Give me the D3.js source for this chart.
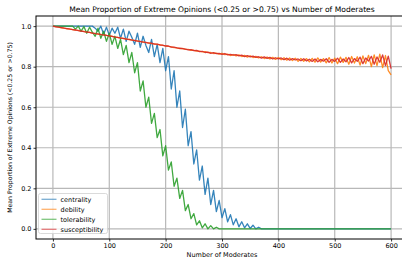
<!DOCTYPE html>
<html>
<head>
<meta charset="utf-8">
<script src="https://cdn.jsdelivr.net/npm/d3@7"></script>
<style>
  body { margin: 0; background: #fff; }
  text { font-family: "DejaVu Sans", sans-serif; fill: #000; }
</style>
</head>
<body>
<svg class="svg" width="402" height="259"></svg>
<script>
// number of moderates, sampled every 5
let moderates = d3.range(0, 601, 5);

let centrality = [
    1, 1, 1, 1, 1, 1, 1, 1, 1, 1, 1, 1, 1, 1,
    1.0, 0.99, 0.975, 1.0, 0.96, 0.995, 0.955, 0.99, 0.965, 0.995,
    0.94, 0.985, 0.925, 0.975, 0.945, 0.91, 0.965, 0.895, 0.95, 0.905,
    0.87, 0.935, 0.85, 0.91, 0.82, 0.89, 0.78, 0.85, 0.69, 0.78,
    0.6, 0.68, 0.5, 0.59, 0.41, 0.48, 0.32, 0.39, 0.24, 0.31,
    0.17, 0.25, 0.12, 0.19, 0.085, 0.14, 0.055, 0.1, 0.035, 0.07,
    0.02, 0.05, 0.01, 0.035, 0.005, 0.025, 0.002, 0.018, 0, 0.008,
    0, 0, 0, 0, 0, 0, 0, 0, 0, 0,
    0, 0, 0, 0, 0, 0, 0, 0, 0, 0,
    0, 0, 0, 0, 0, 0, 0, 0, 0, 0,
    0, 0, 0, 0, 0, 0, 0, 0, 0, 0,
    0, 0, 0, 0, 0, 0, 0
];

let debility = [
    1.000, 0.998, 0.995, 0.992, 0.990, 0.987, 0.986, 0.983, 0.980, 0.979,
    0.975, 0.974, 0.970, 0.969, 0.966, 0.964, 0.961, 0.959, 0.956, 0.955,
    0.951, 0.950, 0.947, 0.944, 0.942, 0.939, 0.937, 0.934, 0.932, 0.929,
    0.927, 0.924, 0.922, 0.919, 0.917, 0.914, 0.912, 0.910, 0.908, 0.905,
    0.903, 0.900, 0.898, 0.894, 0.893, 0.889, 0.890, 0.885, 0.885, 0.881,
    0.881, 0.877, 0.877, 0.873, 0.874, 0.869, 0.870, 0.865, 0.867, 0.862,
    0.866, 0.859, 0.862, 0.855, 0.860, 0.853, 0.858, 0.850, 0.856, 0.847,
    0.854, 0.845, 0.851, 0.843, 0.849, 0.840, 0.848, 0.838, 0.846, 0.836,
    0.845, 0.834, 0.844, 0.832, 0.843, 0.830, 0.842, 0.826, 0.841, 0.827,
    0.840, 0.824, 0.841, 0.822, 0.843, 0.823, 0.840, 0.819, 0.845, 0.818,
    0.842, 0.815, 0.847, 0.821, 0.846, 0.812, 0.850, 0.818, 0.849, 0.808,
    0.853, 0.815, 0.856, 0.800, 0.858, 0.805, 0.862, 0.795, 0.855, 0.780,
    0.760
];

let tolerability = [
    1, 1, 1, 1, 1, 1, 1, 1,
    0.985, 1.0, 0.975, 0.998, 0.965, 0.995, 0.97, 0.95, 0.99, 0.94,
    0.975, 0.925, 0.965, 0.91, 0.95, 0.89, 0.935, 0.86, 0.905, 0.82,
    0.87, 0.77, 0.82, 0.68, 0.73, 0.6, 0.65, 0.52, 0.57, 0.45,
    0.49, 0.36, 0.41, 0.29, 0.33, 0.21, 0.25, 0.15, 0.19, 0.09,
    0.12, 0.05, 0.075, 0.02, 0.04, 0.005, 0.025, 0, 0.016, 0,
    0.008, 0,
    0, 0, 0, 0, 0, 0, 0, 0, 0, 0,
    0, 0, 0, 0, 0, 0, 0, 0, 0, 0,
    0, 0, 0, 0, 0, 0, 0, 0, 0, 0,
    0, 0, 0, 0, 0, 0, 0, 0, 0, 0,
    0, 0, 0, 0, 0, 0, 0, 0, 0, 0,
    0, 0, 0, 0, 0, 0, 0, 0, 0, 0,
    0
];

let susceptibility = [
    1.000, 0.997, 0.995, 0.993, 0.990, 0.988, 0.985, 0.983, 0.981, 0.978,
    0.976, 0.973, 0.971, 0.969, 0.966, 0.963, 0.962, 0.958, 0.957, 0.954,
    0.952, 0.950, 0.946, 0.945, 0.941, 0.940, 0.936, 0.935, 0.931, 0.930,
    0.926, 0.925, 0.921, 0.920, 0.916, 0.916, 0.911, 0.911, 0.907, 0.906,
    0.902, 0.902, 0.896, 0.896, 0.893, 0.891, 0.889, 0.887, 0.883, 0.884,
    0.879, 0.880, 0.874, 0.876, 0.870, 0.872, 0.866, 0.869, 0.864, 0.866,
    0.861, 0.865, 0.858, 0.861, 0.857, 0.859, 0.853, 0.857, 0.850, 0.855,
    0.848, 0.852, 0.846, 0.849, 0.842, 0.848, 0.841, 0.846, 0.838, 0.844,
    0.838, 0.843, 0.834, 0.842, 0.832, 0.840, 0.833, 0.838, 0.829, 0.839,
    0.828, 0.837, 0.826, 0.838, 0.824, 0.836, 0.827, 0.839, 0.822, 0.836,
    0.826, 0.842, 0.821, 0.838, 0.824, 0.845, 0.819, 0.840, 0.826, 0.847,
    0.815, 0.843, 0.828, 0.851, 0.812, 0.848, 0.822, 0.858, 0.805, 0.852,
    0.790
];

let seriesNames = ['centrality', 'debility', 'tolerability', 'susceptibility'];
let seriesValues = [centrality, debility, tolerability, susceptibility];
let seriesColors = ['#1f77b4', '#ff7f0e', '#2ca02c', '#d62728'];
let xTicks = [0, 100, 200, 300, 400, 500, 600];
let yTicks = [0.0, 0.2, 0.4, 0.6, 0.8, 1.0];

let plotLeft = 36, plotRight = 408, plotTop = 16, plotBottom = 239;

let svg = d3.select('.svg');

let x = d3.scaleLinear().domain([-30, 630]).range([plotLeft, plotRight]);
let y = d3.scaleLinear().domain([-0.05, 1.05]).range([plotBottom, plotTop]);

function drawGrid() {
    let grid = svg.append('g').attr('class', 'grid');
    grid.selectAll('.vgrid').data(xTicks).enter().append('line')
        .attr('x1', function (d) { return x(d); })
        .attr('x2', function (d) { return x(d); })
        .attr('y1', plotTop)
        .attr('y2', plotBottom)
        .style('stroke', '#b8b8b8')
        .style('stroke-width', 1.2);
    grid.selectAll('.hgrid').data(yTicks).enter().append('line')
        .attr('x1', plotLeft)
        .attr('x2', plotRight)
        .attr('y1', function (d) { return y(d); })
        .attr('y2', function (d) { return y(d); })
        .style('stroke', '#b8b8b8')
        .style('stroke-width', 1.2);
}

function drawLines() {
    let line = d3.line()
        .x(function (d) { return x(d.m); })
        .y(function (d) { return y(d.v); });
    for (let i = 0; i < seriesValues.length; i++) {
        let pts = seriesValues[i].map(function (v, j) {
            return {m: moderates[j], v: v};
        });
        svg.append('path')
            .datum(pts)
            .attr('d', line)
            .attr('fill', 'none')
            .attr('stroke', seriesColors[i])
            .attr('stroke-width', 1.3)
            .attr('stroke-opacity', 0.9)
            .attr('stroke-linejoin', 'round');
    }
}

function drawAxes() {
    let xAxis = svg.append('g')
        .attr('transform', 'translate(0,' + plotBottom + ')')
        .call(d3.axisBottom(x).tickValues(xTicks).tickSize(2.5).tickPadding(2).tickFormat(d3.format('d')));
    let yAxis = svg.append('g')
        .attr('transform', 'translate(' + plotLeft + ',0)')
        .call(d3.axisLeft(y).tickValues(yTicks).tickSize(2.5).tickPadding(2).tickFormat(d3.format('.1f')));
    [xAxis, yAxis].forEach(function (a) {
        a.select('.domain').remove();
        a.selectAll('text').style('font-size', '6.5px').style('font-family', '"DejaVu Sans", sans-serif').attr('fill', '#000');
        a.selectAll('line').attr('stroke', '#000').attr('stroke-width', 0.8);
    });

    // spines
    svg.append('rect')
        .attr('x', plotLeft)
        .attr('y', plotTop)
        .attr('width', plotRight - plotLeft)
        .attr('height', plotBottom - plotTop)
        .attr('fill', 'none')
        .attr('stroke', '#000')
        .attr('stroke-width', 1);

    svg.append('text')
        .attr('x', (plotLeft + plotRight) / 2)
        .attr('y', 12)
        .attr('text-anchor', 'middle')
        .style('font-size', '7.6px')
        .text('Mean Proportion of Extreme Opinions (<0.25 or >0.75) vs Number of Moderates');

    svg.append('text')
        .attr('x', (plotLeft + plotRight) / 2)
        .attr('y', 257)
        .attr('text-anchor', 'middle')
        .style('font-size', '6.5px')
        .text('Number of Moderates');

    svg.append('text')
        .attr('transform', 'translate(12,' + ((plotTop + plotBottom) / 2) + ') rotate(-90)')
        .attr('text-anchor', 'middle')
        .style('font-size', '6.2px')
        .text('Mean Proportion of Extreme Opinions (<0.25 or >0.75)');
}

function drawLegend() {
    let lg = svg.append('g').attr('class', 'legend');
    lg.append('rect')
        .attr('x', 38.5)
        .attr('y', 193.5)
        .attr('width', 69)
        .attr('height', 40)
        .attr('rx', 2)
        .attr('fill', '#fff')
        .attr('fill-opacity', 0.8)
        .attr('stroke', '#d0d0d0')
        .attr('stroke-width', 0.8);
    let item = lg.selectAll('.item').data(seriesNames).enter().append('g')
        .attr('class', 'item')
        .attr('transform', function (d, i) { return 'translate(0,' + (199.3 + i * 10) + ')'; });
    item.append('line')
        .attr('x1', 41.5)
        .attr('x2', 56.5)
        .attr('y1', 0)
        .attr('y2', 0)
        .attr('stroke', function (d, i) { return seriesColors[i]; })
        .attr('stroke-opacity', 0.6)
        .attr('stroke-width', 1.3);
    item.append('text')
        .attr('x', 60.5)
        .attr('y', 2.3)
        .style('font-size', '6.5px')
        .text(function (d) { return d; });
}

drawGrid();
drawLines();
drawAxes();
drawLegend();
</script>
</body>
</html>
